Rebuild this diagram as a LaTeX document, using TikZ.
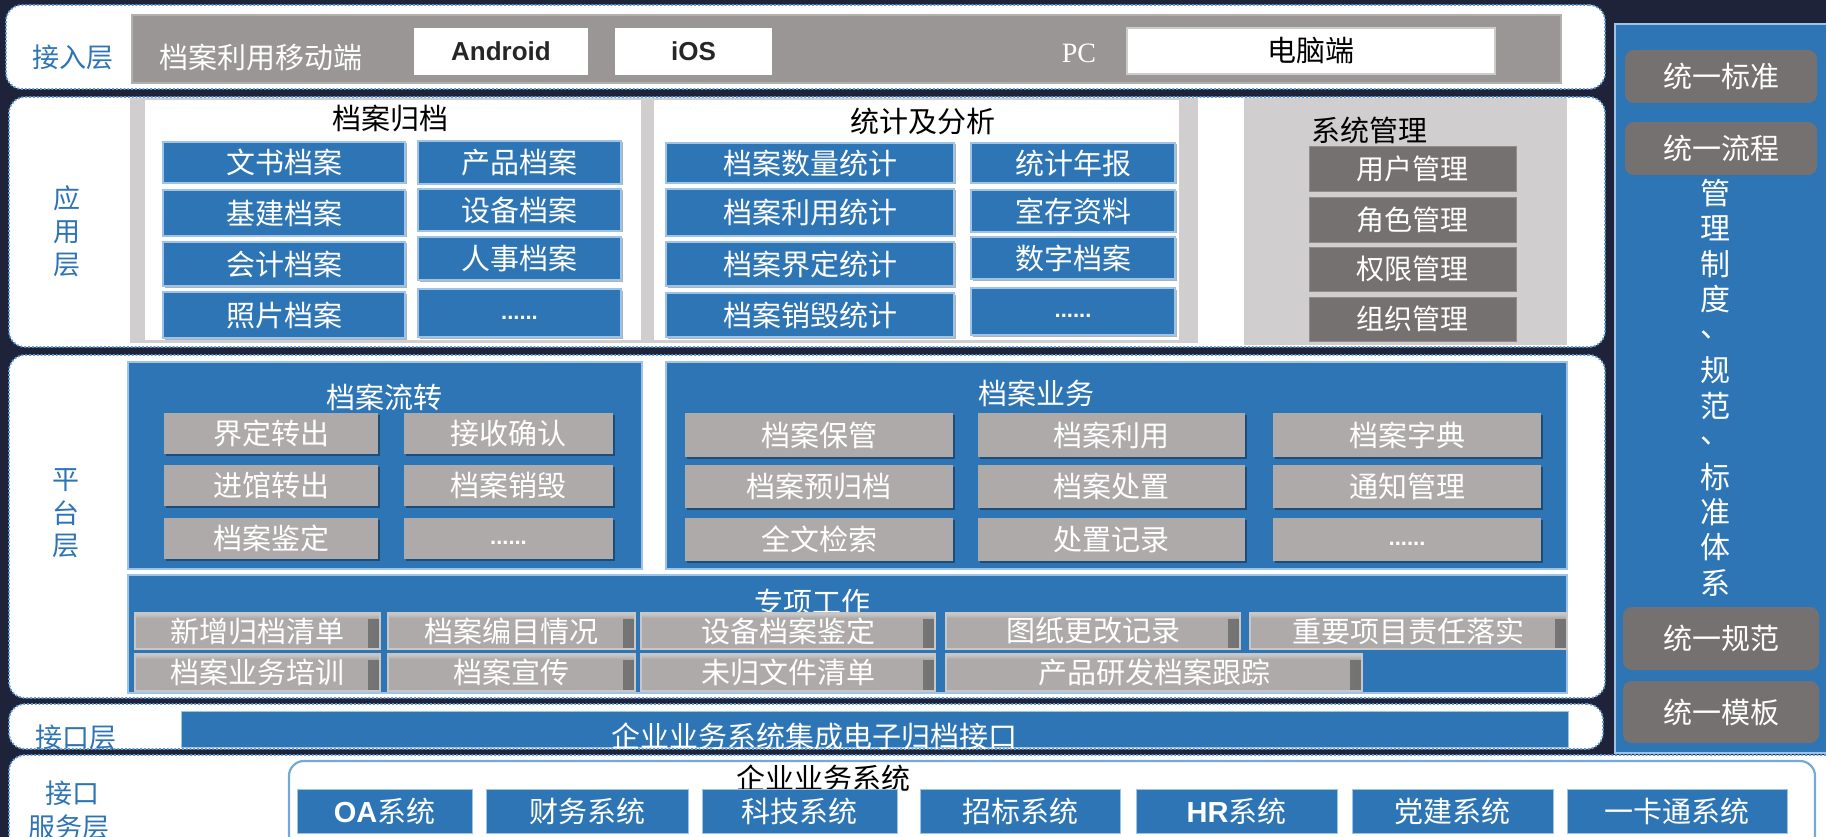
\documentclass[tikz,border=0pt]{standalone}
\usepackage{fontspec}
\setmainfont{Noto Sans CJK SC}
\newfontfamily\lat{Liberation Sans}
\newfontfamily\serifpc{Liberation Serif}
\usetikzlibrary{shadows,calc}
\definecolor{navy}{HTML}{1F2339}
\definecolor{mblue}{HTML}{2E75B6}
\definecolor{lblue}{HTML}{9DC3E6}
\definecolor{dotblue}{HTML}{5B9BD5}
\definecolor{bargrey}{HTML}{999695}
\definecolor{framegrey}{HTML}{D0CECE}
\definecolor{dgrey}{HTML}{767171}
\definecolor{pgrey}{HTML}{AEAAAA}
\definecolor{txtblue}{HTML}{2E74B5}
\definecolor{darktxt}{HTML}{262626}
\newcommand\fs[1]{\fontsize{#1}{#1}\selectfont}
\newcommand\bnode[7]{\node[#1, minimum width={(#5-#3)*1pt}, minimum height={(#6-#4)*1pt}] (#2) at ({(#3+#5)/2},{(#4+#6)/2}) {#7};}
\newcommand\edots{\vphantom{国}\raisebox{4pt}{\lat\bfseries\fs{22}......}}
\tikzset{
  base/.style={rectangle, inner sep=0pt, outer sep=0pt},
  band/.style={base, fill=white, draw=dotblue, dotted, line width=1.8pt, rounded corners=16pt},
  lab/.style={base, text=txtblue, font=\fs{27}},
  greybar/.style={base, fill=bargrey, draw=bargrey!75!white, line width=2pt},
  wbox/.style={base, fill=white, text=darktxt, font=\lat\bfseries\fs{26}},
  pcbox/.style={base, fill=white, draw=black!20, line width=2.5pt, text=black, font=\fs{29}},
  frame/.style={base, fill=framegrey},
  panelw/.style={base, fill=white},
  title/.style={base, text=black, font=\fs{29}},
  wtitle/.style={base, text=white, font=\fs{29}},
  bluebox/.style={base, fill=mblue, draw=lblue, line width=1.8pt, text=white, font=\fs{29},
    drop shadow={shadow xshift=1.5pt, shadow yshift=-1.5pt, opacity=0.3, fill=black}},
  sysbox/.style={base, fill=dgrey, draw=dgrey!80!white, line width=0.8pt, text=white, font=\fs{28}},
  bpanel/.style={base, fill=mblue, draw=lblue, line width=2pt},
  greybox/.style={base, fill=pgrey, text=white, font=\fs{29},
    drop shadow={shadow xshift=2pt, shadow yshift=-2pt, opacity=0.35, fill=black}},
  bevel/.style={base, fill=pgrey, draw=black!22, line width=1.5pt, text=white, font=\fs{29},
    path picture={\shade[left color=pgrey, right color=black!55] ([xshift=-12pt]path picture bounding box.north east) rectangle (path picture bounding box.south east);
                  \shade[top color=pgrey!60!white, bottom color=pgrey] (path picture bounding box.north west) rectangle ([yshift=-5pt]path picture bounding box.north east);}},
  jkbar/.style={base, fill=mblue, draw=lblue, line width=1pt},
  inner/.style={base, fill=white, draw=dotblue!85!white, line width=2.2pt, rounded corners=15pt},
  sysblue/.style={base, fill=mblue, draw=lblue, line width=1pt, text=white, font=\fs{29}},
  rcol/.style={base, fill=mblue, draw=lblue, line width=2.5pt},
  rulebox/.style={base, fill=dgrey, rounded corners=9pt, text=white, font=\fs{29}},
  vtxt/.style={base, text=white, font=\fs{30}}
}
\begin{document}
\begin{tikzpicture}[x=1pt,y=-1pt]
\useasboundingbox (0,0) rectangle (1826,837);
\clip (0,0) rectangle (1826,837);
\fill[navy] (0,0) rectangle (1826,837);

% layer bands
\bnode{band}{L1}{6}{5}{1605}{89}{}
\bnode{band}{L2}{9}{97}{1605}{347}{}
\bnode{band}{L3}{9}{355}{1605}{698}{}
\bnode{band}{L4}{9}{704}{1603}{749}{}
\bnode{band}{L5}{9}{755}{1880}{900}{}

% right column
\bnode{rcol}{RC}{1615}{24}{1850}{753}{}
\bnode{rulebox}{r1}{1625}{50}{1817}{103}{统一标准}
\bnode{rulebox}{r2}{1625}{122}{1817}{175}{统一流程}
\bnode{rulebox}{r3}{1623}{607}{1819}{670}{统一规范}
\bnode{rulebox}{r4}{1623}{681}{1819}{743}{统一模板}
\foreach \c [count=\i from 0] in {管,理,制,度,、,规,范,、,标,准,体,系}
  \node[vtxt] (v\i) at (1715,{193+35.45*\i}) {\c};

% left labels
\node[lab] (lab1) at (73,57) {接入层};
\node[lab] (lab2a) at (67,198) {应};
\node[lab] (lab2b) at (67,232) {用};
\node[lab] (lab2c) at (67,265) {层};
\node[lab] (lab3a) at (66,480) {平};
\node[lab] (lab3b) at (66,513) {台};
\node[lab] (lab3c) at (66,546) {层};
\node[lab] (lab4) at (76,737) {接口层};
\node[lab] (lab5a) at (72,793) {接口};
\node[lab] (lab5b) at (69,827) {服务层};

% layer 1
\bnode{greybar}{GB}{132}{15}{1561}{83}{}
\node[base, text=white, font=\fs{29}] (mob) at (261,57) {档案利用移动端};
\bnode{wbox}{AND}{414}{28}{588}{75}{Android}
\bnode{wbox}{IOS}{615}{28}{772}{75}{iOS}
\node[base, text=white, font=\serifpc\fs{28}] (pc) at (1079,53) {PC};
\bnode{pcbox}{PCB}{1127}{28}{1495}{74}{电脑端}

% layer 2
\bnode{frame}{FR}{130}{98}{1198}{343}{}
\bnode{panelw}{PA}{145}{100}{641}{340}{}
\bnode{panelw}{PB}{654}{100}{1179}{340}{}
\bnode{frame}{SYS}{1244}{98}{1567}{345}{}
\node[title] (ta) at (390,118) {档案归档};
\node[title] (tb) at (923,121) {统计及分析};
\node[title] (tc) at (1369,130) {系统管理};

\bnode{bluebox}{a1}{163}{142}{405}{183}{文书档案}
\bnode{bluebox}{a2}{163}{190}{405}{236}{基建档案}
\bnode{bluebox}{a3}{163}{242}{405}{286}{会计档案}
\bnode{bluebox}{a4}{163}{292}{405}{338}{照片档案}
\bnode{bluebox}{a5}{418}{141}{621}{184}{产品档案}
\bnode{bluebox}{a6}{418}{189}{621}{231}{设备档案}
\bnode{bluebox}{a7}{418}{237}{621}{280}{人事档案}
\bnode{bluebox}{a8}{418}{289}{621}{337}{\edots}

\bnode{bluebox}{b1}{666}{143}{954}{183}{档案数量统计}
\bnode{bluebox}{b2}{666}{189}{954}{236}{档案利用统计}
\bnode{bluebox}{b3}{666}{242}{954}{286}{档案界定统计}
\bnode{bluebox}{b4}{666}{293}{954}{337}{档案销毁统计}
\bnode{bluebox}{b5}{971}{143}{1175}{183}{统计年报}
\bnode{bluebox}{b6}{971}{190}{1175}{232}{室存资料}
\bnode{bluebox}{b7}{971}{237}{1175}{279}{数字档案}
\bnode{bluebox}{b8}{971}{288}{1175}{335}{\edots}

\bnode{sysbox}{s1}{1309}{146}{1516}{191}{用户管理}
\bnode{sysbox}{s2}{1309}{197}{1516}{242}{角色管理}
\bnode{sysbox}{s3}{1309}{247}{1516}{291}{权限管理}
\bnode{sysbox}{s4}{1309}{297}{1516}{341}{组织管理}

% layer 3
\bnode{bpanel}{LZ}{128}{362}{642}{569}{}
\node[wtitle] (lzt) at (384,397) {档案流转};
\bnode{greybox}{lz1}{164}{413}{378}{454}{界定转出}
\bnode{greybox}{lz2}{404}{413}{613}{454}{接收确认}
\bnode{greybox}{lz3}{164}{465}{378}{506}{进馆转出}
\bnode{greybox}{lz4}{404}{465}{613}{506}{档案销毁}
\bnode{greybox}{lz5}{164}{518}{378}{559}{档案鉴定}
\bnode{greybox}{lz6}{404}{518}{613}{559}{\edots}

\bnode{bpanel}{YW}{666}{362}{1567}{569}{}
\node[wtitle] (ywt) at (1036,393) {档案业务};
\bnode{greybox}{yw1}{685}{413}{953}{457}{档案保管}
\bnode{greybox}{yw2}{978}{413}{1245}{457}{档案利用}
\bnode{greybox}{yw3}{1273}{413}{1541}{457}{档案字典}
\bnode{greybox}{yw4}{685}{465}{953}{508}{档案预归档}
\bnode{greybox}{yw5}{978}{465}{1245}{508}{档案处置}
\bnode{greybox}{yw6}{1273}{465}{1541}{508}{通知管理}
\bnode{greybox}{yw7}{685}{518}{953}{561}{全文检索}
\bnode{greybox}{yw8}{978}{518}{1245}{561}{处置记录}
\bnode{greybox}{yw9}{1273}{518}{1541}{561}{\edots}

\bnode{bpanel}{ZX}{128}{575}{1567}{693}{}
\node[wtitle] (zxt) at (812,602) {专项工作};
\bnode{bevel}{z1}{135}{613}{380}{649}{新增归档清单}
\bnode{bevel}{z2}{388}{613}{635}{649}{档案编目情况}
\bnode{bevel}{z3}{641}{613}{935}{649}{设备档案鉴定}
\bnode{bevel}{z4}{946}{613}{1240}{649}{图纸更改记录}
\bnode{bevel}{z5}{1250}{613}{1567}{649}{重要项目责任落实}
\bnode{bevel}{z6}{135}{654}{380}{691}{档案业务培训}
\bnode{bevel}{z7}{388}{654}{635}{691}{档案宣传}
\bnode{bevel}{z8}{641}{654}{935}{691}{未归文件清单}
\bnode{bevel}{z9}{946}{654}{1362}{691}{产品研发档案跟踪}

% layer 4
\bnode{jkbar}{JK}{181}{711}{1568}{747}{}
\node[wtitle] (jkt) at (814,736) {企业业务系统集成电子归档接口};

% layer 5
\bnode{inner}{QY}{289}{761}{1815}{900}{}
\node[title] (qyt) at (823,778) {企业业务系统};
\bnode{sysblue}{q1}{297}{789}{472}{833}{{\lat\bfseries OA}系统}
\bnode{sysblue}{q2}{486}{789}{688}{833}{财务系统}
\bnode{sysblue}{q3}{702}{789}{897}{833}{科技系统}
\bnode{sysblue}{q4}{920}{789}{1120}{833}{招标系统}
\bnode{sysblue}{q5}{1136}{789}{1337}{833}{{\lat\bfseries HR}系统}
\bnode{sysblue}{q6}{1352}{789}{1553}{833}{党建系统}
\bnode{sysblue}{q7}{1567}{789}{1787}{833}{一卡通系统}
\end{tikzpicture}
\end{document}
